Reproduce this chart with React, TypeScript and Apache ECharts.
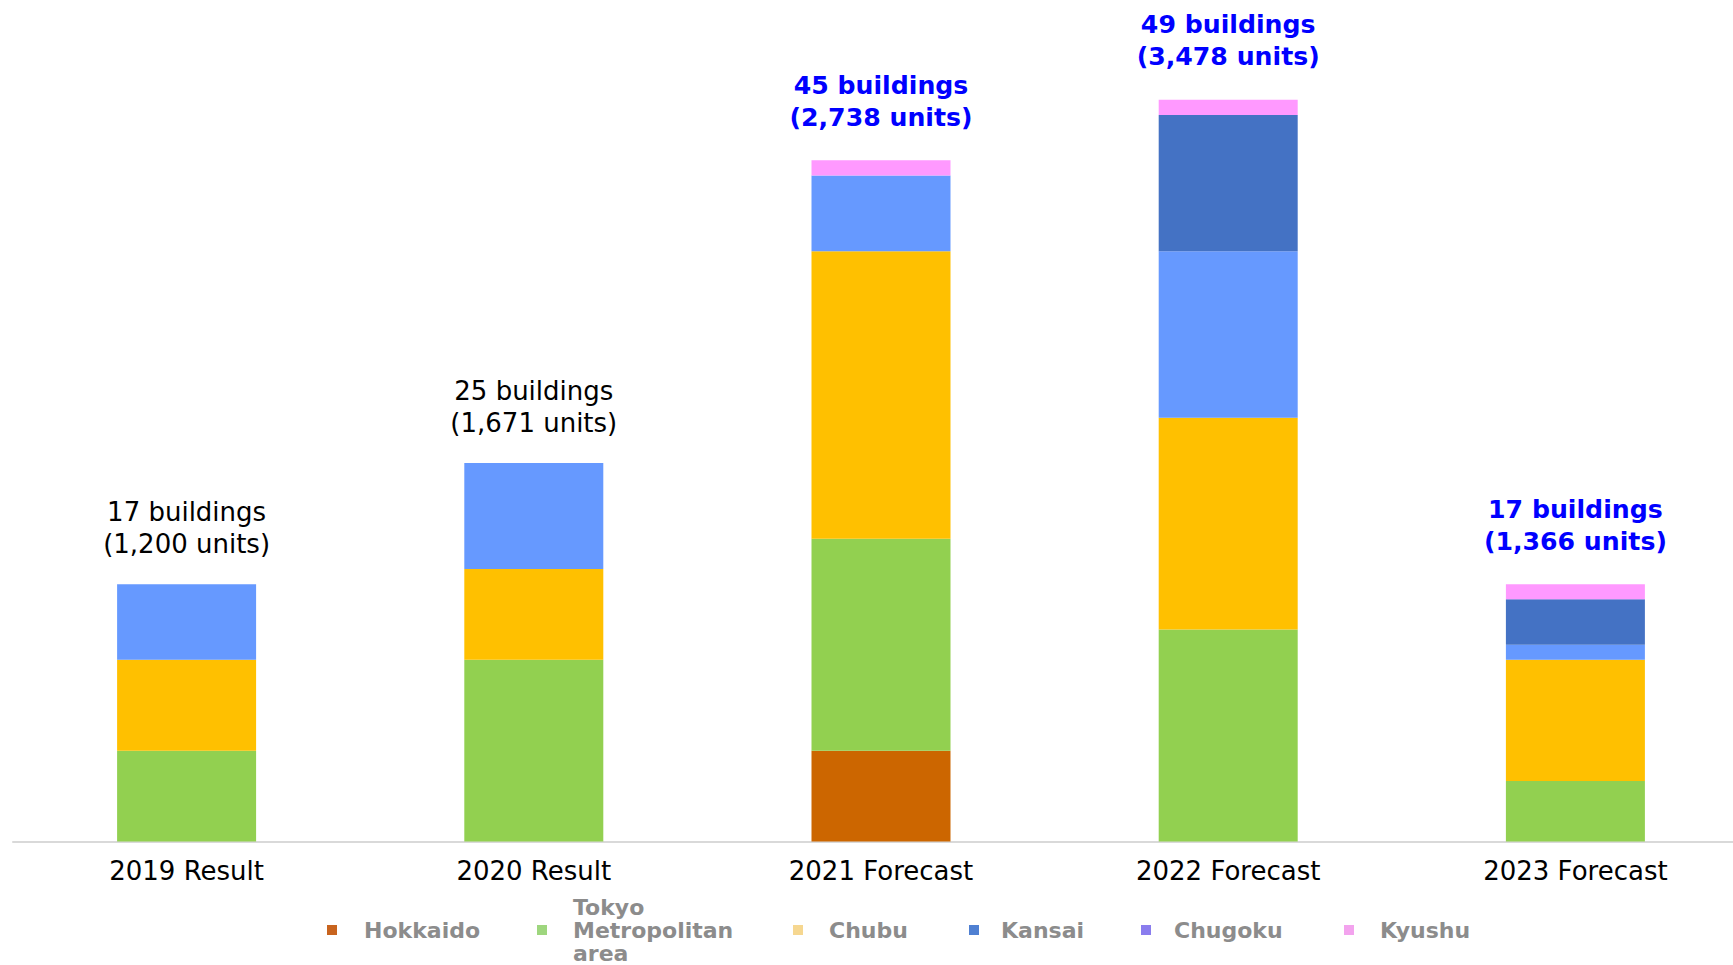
import React, { useEffect, useRef } from "react";
import * as echarts from "echarts";

const categories = ["2019 Result", "2020 Result", "2021 Forecast", "2022 Forecast", "2023 Forecast"];
const hokkaido = [0, 0, 6, 0, 0];
const tokyo = [6, 12, 14, 14, 4];
const chubu = [6, 6, 19, 14, 8];
const kansai = [5, 7, 5, 11, 1];
const chugoku = [0, 0, 0, 9, 3];
const kyushu = [0, 0, 1, 1, 1];
const totalBuildings = [17, 25, 45, 49, 17];
const totalUnits = [1200, 1671, 2738, 3478, 1366];

const FONT = "DejaVu Sans";

const seriesDefs = [
  { name: "Hokkaido", data: hokkaido, color: "#CC6600", legendColor: "#C8641E", left: 327, pad: 22 },
  { name: "Tokyo Metropolitan area", data: tokyo, color: "#92D050", legendColor: "#9ED67E", left: 537, pad: 21, label: "Tokyo\nMetropolitan\narea" },
  { name: "Chubu", data: chubu, color: "#FFC000", legendColor: "#F6D790", left: 793, pad: 21 },
  { name: "Kansai", data: kansai, color: "#6699FF", legendColor: "#4F80D2", left: 969, pad: 17 },
  { name: "Chugoku", data: chugoku, color: "#4472C4", legendColor: "#8A7DEE", left: 1141, pad: 18 },
  { name: "Kyushu", data: kyushu, color: "#FF99FF", legendColor: "#F3A3EE", left: 1344, pad: 21 },
];

const CANVAS_W = 1760;

export default function App() {
  const ref = useRef<HTMLDivElement>(null);
  useEffect(() => {
    if (!ref.current) return;
    const chart = echarts.init(ref.current, null, { renderer: "svg" });
    const series: any[] = seriesDefs.map((s) => ({
      name: s.name,
      type: "bar",
      stack: "total",
      barWidth: 139,
      data: s.data,
      itemStyle: { color: s.color },
      emphasis: { disabled: true },
    }));
    series.push({
      name: "Total",
      type: "bar",
      stack: "total",
      barWidth: 139,
      itemStyle: { color: "transparent" },
      emphasis: { disabled: true },
      data: categories.map((c, i) => {
        const forecast = c.includes("Forecast");
        return {
          value: 0,
          label: {
            show: true,
            position: "top",
            distance: forecast ? 27 : 24,
            fontFamily: FONT,
            fontSize: forecast ? 25.2 : 26,
            lineHeight: 32,
            fontWeight: forecast ? "bold" : "normal",
            color: forecast ? "#0000FF" : "#000000",
            formatter: () =>
              `${totalBuildings[i]} buildings\n(${totalUnits[i].toLocaleString("en-US")} units)`,
          },
        };
      }),
    });

    const legends = seriesDefs.map((s) => {
      const multi = !!s.label;
      return {
        show: true,
        selectedMode: false,
        left: s.left,
        top: multi ? 896 : 919,
        padding: 0,
        itemWidth: 10,
        itemHeight: 10,
        icon: "rect",
        data: [{ name: s.name, itemStyle: { color: s.legendColor } }],
        formatter: (name: string) => {
          const txt = s.label ? s.label : name;
          return txt
            .split("\n")
            .map((t) => `{a|${t}}`)
            .join("\n");
        },
        textStyle: {
          rich: {
            a: {
              fontFamily: FONT,
              fontSize: 22,
              fontWeight: "bold",
              color: "#8C8C8C",
              lineHeight: 23,
              padding: [0, 0, 0, s.pad],
            },
          },
        },
      };
    });

    chart.setOption({
      animation: false,
      backgroundColor: "#FFFFFF",
      legend: legends,
      grid: { left: 13, right: CANVAS_W - 1749, top: 9, height: 832.5, containLabel: false },
      xAxis: {
        type: "category",
        data: categories,
        axisLine: { show: true, lineStyle: { color: "#D9D9D9", width: 2 } },
        axisTick: { show: false },
        axisLabel: {
          color: "#000000",
          fontFamily: FONT,
          fontSize: 26,
          lineHeight: 30,
          margin: 14,
        },
      },
      yAxis: {
        type: "value",
        min: 0,
        max: 55,
        show: false,
        splitLine: { show: false },
      },
      series,
    });
    return () => chart.dispose();
  }, []);
  return (
    <div style={{ position: "fixed", left: 0, top: 0, width: 1733, height: 965, overflow: "hidden", background: "#fff" }}>
      <div ref={ref} style={{ position: "absolute", left: 0, top: 0, width: CANVAS_W, height: 965 }} />
    </div>
  );
}
